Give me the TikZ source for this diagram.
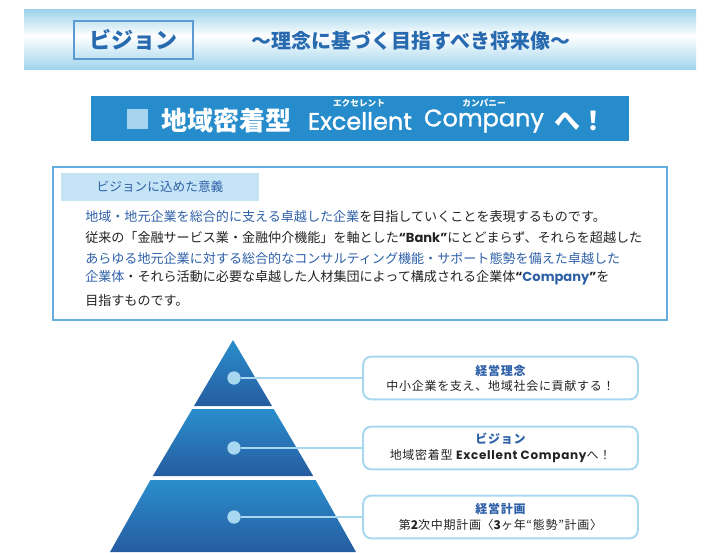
\documentclass[tikz,border=0pt]{standalone}
\usepackage{fontspec}
\setmainfont{Noto Sans CJK JP}
\newfontfamily\latinfont{Poppins}
\newfontfamily\latinheavy{Poppins}[FakeBold=1.2]

\definecolor{barblue}{RGB}{158,212,236}
\definecolor{titleblue}{RGB}{40,106,176}
\definecolor{frameblue}{RGB}{92,154,212}
\definecolor{bannerblue}{RGB}{38,140,203}
\definecolor{squareblue}{RGB}{166,212,238}
\definecolor{headblue}{RGB}{197,228,245}
\definecolor{boxframe}{RGB}{100,175,222}
\definecolor{textblue}{RGB}{46,96,168}
\definecolor{lightline}{RGB}{168,216,240}
\definecolor{pyrtop}{RGB}{42,142,204}
\definecolor{pyrbot}{RGB}{38,92,160}
\definecolor{ink}{RGB}{35,35,35}

\begin{document}
\begin{tikzpicture}[x=0.75pt, y=-0.75pt,
  bodyline/.style={anchor=west, inner sep=0, font=\fontsize{9.8}{12}\selectfont, text=ink},
  tierdot/.style={circle, fill=lightline, minimum size=10pt, inner sep=0},
  goalbox/.style={draw=lightline, line width=1.5pt, rounded corners=6pt, fill=white,
    minimum width=206pt, minimum height=32pt, align=center,
    font=\fontsize{9}{11.5}\selectfont\addfontfeature{LetterSpace=6}, text=ink},
  tier/.style={top color=pyrtop, bottom color=pyrbot}]
\useasboundingbox (0,0) rectangle (712,552);

% Header bar
\shade[top color=barblue, bottom color=white] (24,10) rectangle (696,36);
\shade[top color=white, bottom color=barblue] (24,36) rectangle (696,70);
\node[draw=frameblue, line width=1.2pt, minimum width=89pt, minimum height=28.5pt,
  font=\fontsize{16.5}{18}\selectfont\bfseries, text=titleblue] (vision) at (133.5,40) {ビジョン};
\node[font=\fontsize{15}{17}\selectfont\bfseries, text=titleblue] (subtitle) at (411,41) {～理念に基づく目指すべき将来像～};

% Banner
\node[fill=bannerblue, minimum width=403.5pt, minimum height=33.75pt] (banner) at (360,118.5) {};
\node[fill=squareblue, minimum width=15.75pt, minimum height=15pt, inner sep=0] (mark) at (137.5,119) {};
\node[font=\fontsize{19.5}{21}\selectfont\bfseries, text=white] (region) at (226,121) {地域密着型};
\node[font=\latinheavy\fontsize{18}{20}\selectfont, text=white] (excellent) at (360,121) {Excellent};
\node[font=\latinheavy\fontsize{18}{20}\selectfont, text=white] (company) at (484,121) {Company};
\node[font=\fontsize{19.5}{21}\selectfont\bfseries, text=white] (toward) at (580,121) {へ！};
\node[font=\fontsize{6.5}{7}\selectfont\bfseries, text=white, inner sep=0] (rubyexc) at (359,103) {エクセレント};
\node[font=\fontsize{6.5}{7}\selectfont\bfseries, text=white, inner sep=0] (rubycom) at (484,103) {カンパニー};

% Meaning of the vision
\node[draw=boxframe, line width=1.1pt, minimum width=460.5pt, minimum height=114.75pt] (meaning) at (360,243.5) {};
\node[fill=headblue, minimum width=148.5pt, minimum height=21pt, text=textblue,
  font=\fontsize{9.5}{11}\selectfont] (meaninghead) at (160,187) {ビジョンに込めた意義};
\node[bodyline] (line1) at (85,217) {\textcolor{textblue}{地域・地元企業を総合的に支える卓越した企業}を目指していくことを表現するものです。};
\node[bodyline] (line2) at (85,238) {従来の「金融サービス業・金融仲介機能」を軸とした{\latinfont\bfseries “Bank”}にとどまらず、それらを超越した};
\node[bodyline, text=textblue] (line3) at (85,258) {あらゆる地元企業に対する総合的なコンサルティング機能・サポート態勢を備えた卓越した};
\node[bodyline] (line4) at (85,278) {\textcolor{textblue}{企業体}・それら活動に必要な卓越した人材集団によって構成される企業体{\latinfont\bfseries “\textcolor{textblue}{Company}”}を};
\node[bodyline] (line5) at (85,301) {目指すものです。};

% Pyramid
\shade[tier] (233,340) -- (272,406) -- (194,406) -- cycle;
\shade[tier] (192.3,409) -- (273.7,409) -- (313.2,476) -- (152.8,476) -- cycle;
\shade[tier] (150.4,480) -- (315.6,480) -- (356,552) -- (110,552) -- cycle;

% Dots and goals
\node[tierdot] (dot1) at (234,378) {};
\node[tierdot] (dot2) at (234,448) {};
\node[tierdot] (dot3) at (234,517) {};
\node[goalbox] (goal1) at (500.5,378) {\textcolor{textblue}{\bfseries 経営理念}\\中小企業を支え、地域社会に貢献する！};
\node[goalbox] (goal2) at (500.5,448) {\textcolor{textblue}{\bfseries ビジョン}\\地域密着型 {\latinfont\bfseries\addfontfeature{LetterSpace=6}Excellent Company}へ！};
\node[goalbox] (goal3) at (500.5,517) {\textcolor{textblue}{\bfseries 経営計画}\\第{\bfseries 2}次中期計画〈{\bfseries 3}ヶ年“態勢”計画〉};

% Connectors
\draw[lightline, line width=1.2pt] (dot1) -- (goal1);
\draw[lightline, line width=1.2pt] (dot2) -- (goal2);
\draw[lightline, line width=1.2pt] (dot3) -- (goal3);

\end{tikzpicture}
\end{document}
